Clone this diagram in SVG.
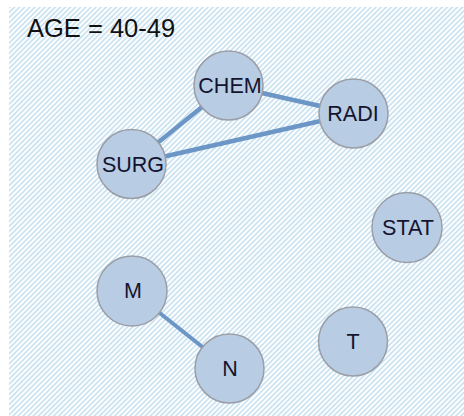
<svg xmlns="http://www.w3.org/2000/svg" width="464" height="416" viewBox="0 0 464 416">
<defs>
<pattern id="hatch" patternUnits="userSpaceOnUse" width="3.6" height="3.6" patternTransform="rotate(45)">
<rect x="0" y="0" width="3.6" height="3.6" fill="#ffffff"/>
<rect x="0" y="0" width="1.8" height="3.6" fill="#cce3f1"/>
</pattern>
<style>
.node circle{fill:#b8cce4;stroke:#9a9ea6;stroke-width:1.5}
.node text{font-family:"Liberation Sans",Arial,sans-serif;font-size:21.5px;fill:#141430;text-anchor:middle}
.edge{stroke:#6b96c6;stroke-width:4.5;stroke-linecap:butt}
</style>
</defs>
<rect x="9" y="7" width="455" height="409" fill="url(#hatch)"/>
<text x="27" y="37" font-family="Liberation Sans, Arial, sans-serif" font-size="25.5" fill="#111">AGE = 40-49</text>
<g id="connectors">
<line class="edge" x1="131.5" y1="164" x2="228.5" y2="85.5"/>
<line class="edge" x1="131.5" y1="164" x2="353.5" y2="113.5"/>
<line class="edge" x1="228.5" y1="85.5" x2="353.5" y2="113.5"/>
<line class="edge" x1="132" y1="291" x2="229.5" y2="368.5" style="stroke-width:4"/>
</g>
<g id="CHEM" class="node"><circle cx="228.5" cy="85.5" r="34.5"/><text x="230" y="93">CHEM</text></g>
<g id="RADI" class="node"><circle cx="353.5" cy="113.5" r="34.5"/><text x="353" y="121">RADI</text></g>
<g id="SURG" class="node"><circle cx="131.5" cy="164" r="34.5"/><text x="133" y="172">SURG</text></g>
<g id="STAT" class="node"><circle cx="407" cy="227.5" r="35"/><text x="408" y="235">STAT</text></g>
<g id="M" class="node"><circle cx="132" cy="291" r="35"/><text x="133" y="298">M</text></g>
<g id="N" class="node"><circle cx="229.5" cy="368.5" r="34.5"/><text x="230" y="376">N</text></g>
<g id="T" class="node"><circle cx="353" cy="341.5" r="34.5"/><text x="353" y="349">T</text></g>
</svg>
